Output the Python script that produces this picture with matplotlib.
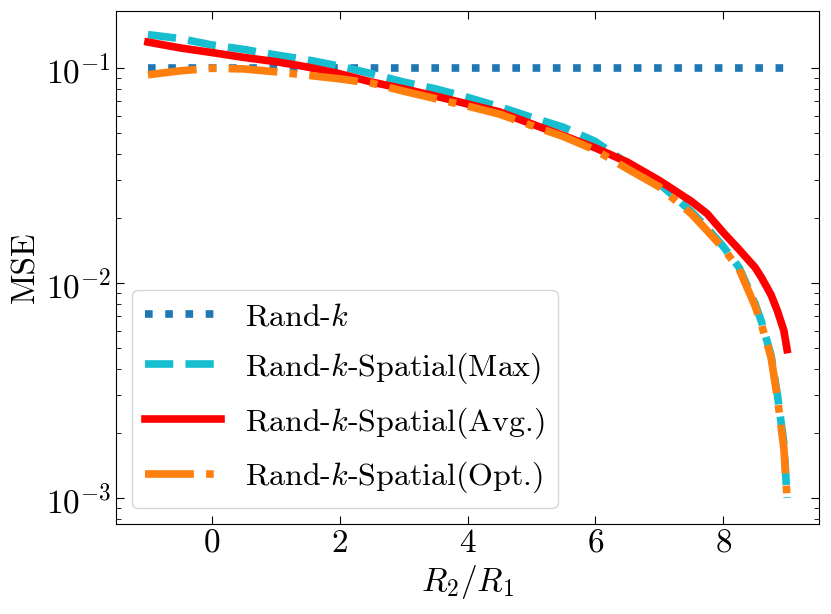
import numpy as np
import matplotlib
matplotlib.use('Agg')
import matplotlib.pyplot as plt

plt.rcParams['font.family'] = 'serif'
plt.rcParams['font.serif'] = ['cmr10', 'DejaVu Serif']
plt.rcParams['mathtext.fontset'] = 'cm'
plt.rcParams['axes.formatter.use_mathtext'] = True
plt.rcParams['axes.unicode_minus'] = False

# R2/R1 grid
x = [-1, -0.5, 0, 0.5, 1, 1.5, 2, 2.5, 3, 3.5, 4, 4.5, 5, 5.5, 6, 6.5, 7, 7.5, 7.75,
     8, 8.25, 8.5, 8.6, 8.75, 8.85, 8.95, 9]

mse_randk = [0.1] * len(x)
mse_max = [0.143, 0.137, 0.128, 0.122, 0.115, 0.109, 0.102, 0.094, 0.086, 0.080, 0.073,
           0.066, 0.059, 0.053, 0.0455, 0.036, 0.029, 0.0215, 0.018, 0.0148, 0.0118,
           0.0080, 0.0066, 0.0046, 0.0030, 0.0018, 0.001]
mse_avg = [0.132, 0.124, 0.118, 0.112, 0.107, 0.101, 0.094, 0.086, 0.080, 0.074, 0.068,
           0.0625, 0.055, 0.0485, 0.0425, 0.0365, 0.030, 0.024, 0.021, 0.0172, 0.0143,
           0.0118, 0.0106, 0.0088, 0.0074, 0.0060, 0.0049]
mse_opt = [0.093, 0.097, 0.0997, 0.099, 0.096, 0.0925, 0.089, 0.085, 0.078, 0.072, 0.0665,
           0.061, 0.054, 0.048, 0.0415, 0.034, 0.028, 0.021, 0.0175, 0.0145, 0.0116,
           0.0078, 0.0064, 0.0045, 0.0029, 0.0017, 0.001]

labels = ['Rand-$k$', 'Rand-$k$-Spatial(Max)', 'Rand-$k$-Spatial(Avg.)', 'Rand-$k$-Spatial(Opt.)']

fig, ax = plt.subplots(figsize=(8.31, 6.14), dpi=100)
fig.subplots_adjust(left=0.1396, right=0.9856, bottom=0.1466, top=0.982)

lw = 5.5
ax.plot(x, mse_randk, ':', color='#1f77b4', lw=lw, label=labels[0])
ax.plot(x, mse_max, '--', color='#17becf', lw=lw, label=labels[1])
ax.plot(x, mse_avg, '-', color='red', lw=lw, label=labels[2])
ax.plot(x, mse_opt, '-.', color='#ff7f0e', lw=lw, label=labels[3])

ax.set_yscale('log')
ax.set_xlim(-1.5, 9.5)
ax.set_ylim(7.57e-4, 0.184)
ax.set_xticks([0, 2, 4, 6, 8])
ax.tick_params(which='both', direction='in', top=True, right=True, labelsize=24)
ax.tick_params(which='major', length=6)
ax.tick_params(which='minor', length=3.5)

ax.set_xlabel('$R_2/R_1$', fontsize=24)
ax.set_ylabel('MSE', fontsize=24)
ax.legend(loc='lower left', fontsize=23, labelspacing=0.6, handlelength=2.4,
          handletextpad=0.75)

fig.savefig('out.png', dpi=100)
